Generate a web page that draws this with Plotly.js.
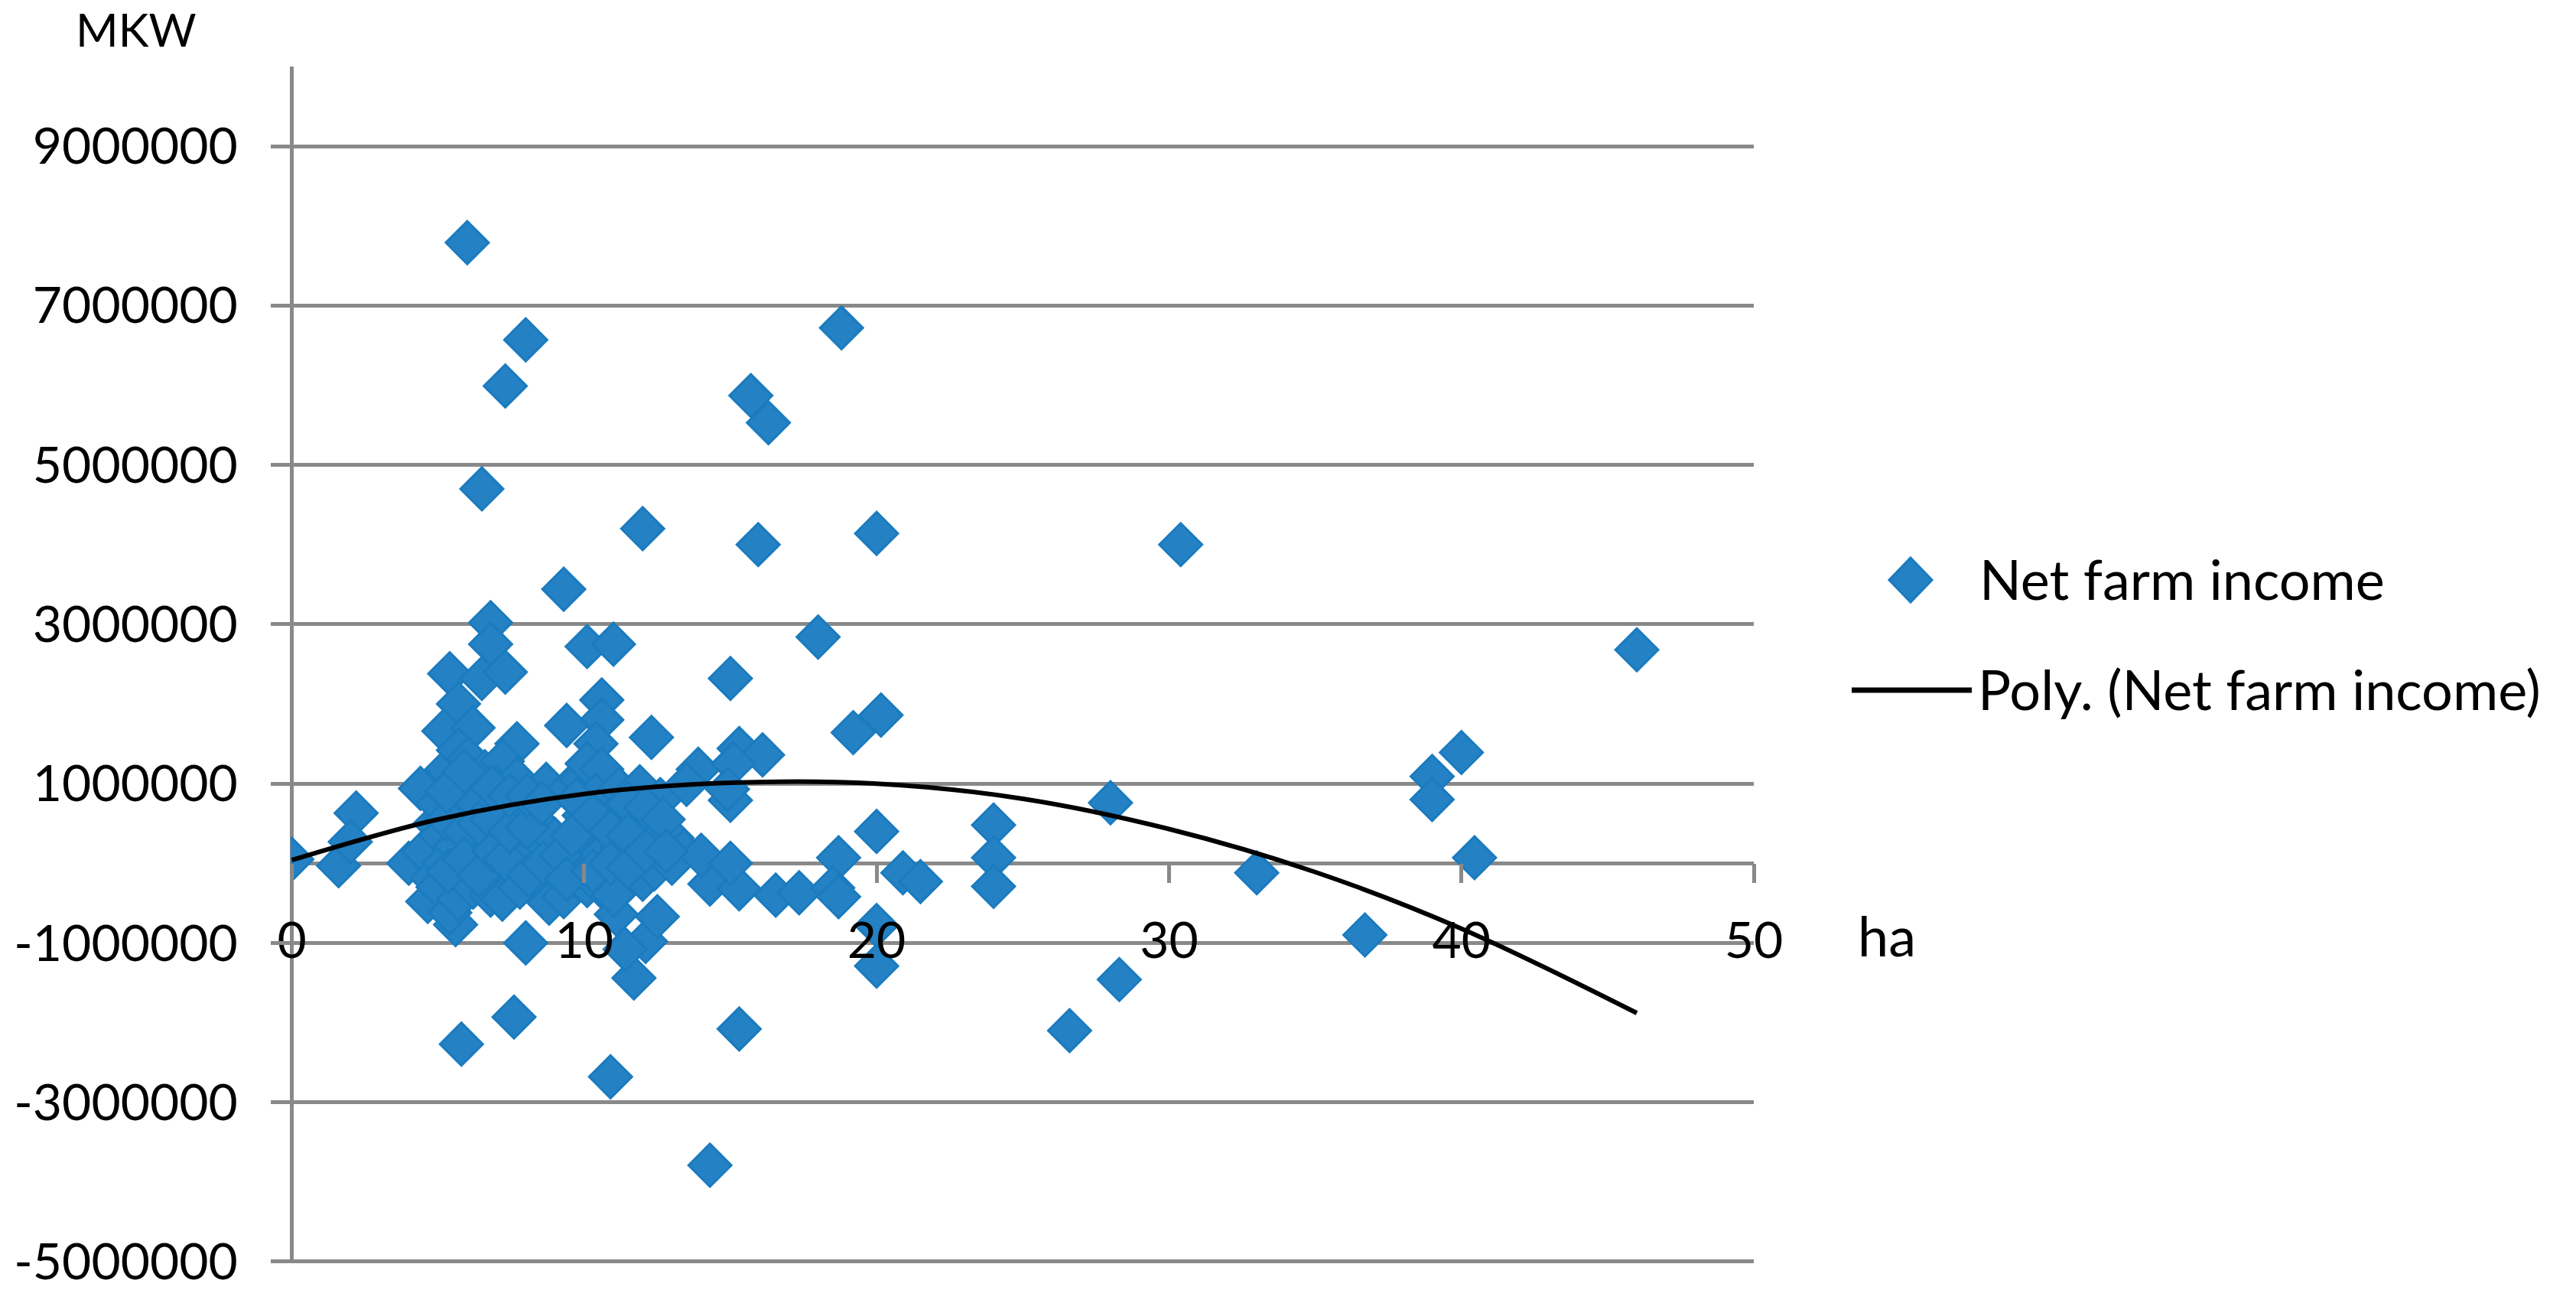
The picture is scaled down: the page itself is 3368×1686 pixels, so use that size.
<!DOCTYPE html>
<html>
<head>
<meta charset="utf-8">
<script src="https://cdn.plot.ly/plotly-3.0.1.min.js"></script>
<style>
  html, body { margin: 0; padding: 0; background: #ffffff; }
  #chart { width: 3368px; height: 1686px; }
</style>
</head>
<body>
<div id="chart"></div>
<script>
// farm size (ha) and net farm income (MKW)
const farmSizeHa = [
  0.0, 1.6, 2.2, 2.0, 6.0, 8.0, 7.3, 6.5, 18.8, 15.7,
  16.3, 12.0, 15.95, 20.0, 30.4, 46.0, 18.0, 9.3, 6.8, 6.8,
  10.1, 11.0, 5.4, 6.5, 7.3, 15.0, 5.7, 10.6, 10.6, 5.2,
  6.2, 9.4, 12.3, 19.2, 20.15, 15.3, 16.1, 7.7, 10.4, 13.9,
  15.1, 15.0, 20.0, 18.7, 20.9, 21.5, 16.55, 17.35, 18.5, 18.7,
  14.3, 15.3, 20.0, 20.0, 24.0, 24.0, 24.0, 28.0, 28.3, 26.6,
  33.0, 36.7, 39.0, 39.0, 40.0, 40.45, 8.0, 11.7, 12.1, 12.5,
  5.6, 15.3, 5.8, 7.6, 10.9, 14.3,
  4.0, 4.4, 4.9, 4.5, 4.8, 4.65, 5.3, 5.0, 5.1, 5.2,
  5.0, 5.4, 5.7, 5.6, 5.8, 5.6, 5.9, 5.7, 6.05, 6.2,
  6.1, 6.3, 6.2, 6.6, 6.5, 6.7, 6.5, 6.8, 7.2, 7.0,
  7.3, 7.1, 7.4, 7.2, 7.7, 7.9, 7.6, 8.0, 7.8, 8.7,
  8.3, 8.6, 8.4, 8.8, 9.0, 9.1, 9.3, 9.5, 9.9, 10.0,
  10.1, 9.8, 10.1, 10.1, 10.6, 10.4, 10.7, 10.4, 10.6, 11.2,
  11.0, 11.3, 11.0, 11.1, 11.4, 11.0, 11.9, 11.8, 11.6, 12.0,
  12.6, 12.3, 12.4, 13.5, 13.0, 13.4, 13.0, 14.0, 14.9, 15.0,
  5.3, 5.35, 5.3, 5.9, 5.9, 5.9, 6.35, 6.4, 6.4, 6.85,
  6.9, 6.85, 7.3, 7.45, 7.45, 8.05, 8.1, 8.05, 8.55, 8.6,
  9.2, 9.4, 9.6, 9.75, 10.3, 10.3, 10.9, 10.9, 11.5, 11.5,
  11.5, 12.1, 12.1, 12.7, 12.8,
];
const netFarmIncome = [
  50000, -30000, 630000, 270000, 7790000, 6570000, 5990000, 4700000, 6720000, 5870000,
  5530000, 4200000, 4000000, 4140000, 4000000, 2680000, 2840000, 3440000, 3020000, 2750000,
  2720000, 2750000, 2380000, 2320000, 2400000, 2320000, 2000000, 2050000, 1800000, 1660000,
  1700000, 1730000, 1580000, 1640000, 1860000, 1440000, 1360000, 1500000, 1500000, 1180000,
  1250000, 790000, 400000, 70000, -120000, -230000, -400000, -370000, -310000, -420000,
  -260000, -320000, -780000, -1290000, 480000, 70000, -290000, 760000, -1460000, -2100000,
  -120000, -900000, 1090000, 800000, 1390000, 70000, -1000000, -1440000, -980000, -670000,
  -770000, -2080000, -2270000, -1930000, -2680000, -3790000,
  0, 940000, 500000, 150000, -190000, -480000, 1180000, 750000, 350000, 0,
  -300000, -620000, 1420000, 950000, 600000, 220000, -150000, -450000, 1310000, 1000000,
  450000, 100000, -300000, 1150000, 750000, 350000, -50000, -400000, 1280000, 950000,
  600000, 250000, -100000, -450000, 1050000, 700000, 350000, 50000, -300000, 990000,
  550000, 250000, -100000, -500000, 300000, -50000, -420000, 950000, 1050000, 600000,
  250000, -190000, 1250000, -280000, 1180000, 850000, 450000, 50000, -300000, 930000,
  600000, 200000, -100000, -640000, -1080000, -400000, 960000, 550000, 150000, -200000,
  800000, 350000, -70000, 990000, 320000, 150000, 0, 100000, 930000, 0,
  550000, -100000, 900000, 400000, 50000, 1150000, 750000, -150000, 500000, 550000,
  150000, 950000, 50000, 400000, 850000, 450000, -150000, 850000, 750000, 0,
  100000, -200000, 350000, 800000, 600000, -100000, 400000, 0, 750000, 350000,
  -50000, 700000, 150000, 550000, 150000,
];

// polynomial trendline
const trendHa = [0, 5, 10, 15, 20, 25, 30, 35, 40, 46];
const trendIncome = [40000, 550000, 870000, 1010000, 1000000, 810000, 430000, -110000, -820000, -1880000];

const xTickVals = [0, 10, 20, 30, 40, 50];
const yTickVals = [-5000000, -3000000, -1000000, 1000000, 3000000, 5000000, 7000000, 9000000];
const xRange = [-0.04, 50];
const yRange = [-5020000, 10000000];

const colors = {
  marker: "#2481c3",
  markerEdge: "#1a7bbf",
  trend: "#000000",
  axis: "#898989",
  text: "#000000",
};
const fontFamily = "Lato, 'Open Sans', sans-serif";

const W = 3368, H = 1686;
const margin = { l: 380, r: 1075, t: 87, b: 35 };
const plotW = W - margin.l - margin.r;
const plotH = H - margin.t - margin.b;
const px = (x) => (x - margin.l) / plotW;
const py = (y) => (H - margin.b - y) / plotH;

const traces = [
  {
    x: farmSizeHa,
    y: netFarmIncome,
    type: "scatter",
    mode: "markers",
    name: "Net farm income",
    marker: { symbol: "diamond", size: 43, color: colors.marker, line: { color: colors.markerEdge, width: 3 } },
  },
  {
    x: trendHa,
    y: trendIncome,
    type: "scatter",
    mode: "lines",
    name: "Poly. (Net farm income)",
    line: { color: colors.trend, width: 6, shape: "spline" },
  },
];

const layout = {
  width: W,
  height: H,
  margin: margin,
  paper_bgcolor: "#ffffff",
  plot_bgcolor: "#ffffff",
  showlegend: false,
  font: { family: fontFamily, color: colors.text, size: 66 },
  xaxis: {
    range: xRange,
    anchor: "free",
    position: -yRange[0] / (yRange[1] - yRange[0]),
    tickvals: xTickVals,
    ticktext: xTickVals.map(String),
    ticks: "outside",
    ticklen: 25,
    tickwidth: 5,
    tickcolor: colors.axis,
    ticklabelstandoff: 19,
    ticklabeloverflow: "allow",
    showline: false,
    showgrid: false,
    zeroline: true,
    zerolinecolor: colors.axis,
    zerolinewidth: 5,
    tickfont: { family: fontFamily, size: 66, color: colors.text },
  },
  yaxis: {
    range: yRange,
    tickvals: yTickVals,
    ticktext: yTickVals.map(String),
    ticks: "outside",
    ticklen: 25,
    tickwidth: 5,
    tickcolor: colors.axis,
    ticklabelstandoff: 30,
    ticklabeloverflow: "allow",
    showline: false,
    showgrid: true,
    gridcolor: colors.axis,
    gridwidth: 5,
    zeroline: true,
    zerolinecolor: colors.axis,
    zerolinewidth: 5,
    tickfont: { family: fontFamily, size: 66, color: colors.text },
  },
  shapes: [
    {
      type: "path",
      xref: "paper",
      yref: "paper",
      xsizemode: "pixel",
      ysizemode: "pixel",
      xanchor: px(2498),
      yanchor: py(758),
      path: "M0,29 L28,0 L0,-29 L-28,0 Z",
      fillcolor: colors.marker,
      line: { color: colors.markerEdge, width: 3 },
    },
    {
      type: "line",
      xref: "paper",
      yref: "paper",
      x0: px(2421),
      x1: px(2578),
      y0: py(902),
      y1: py(902),
      line: { color: colors.trend, width: 7 },
    },
  ],
  annotations: [
    { text: "MKW", xref: "paper", yref: "paper", x: px(178), y: py(38), xanchor: "center", yanchor: "middle", showarrow: false, font: { size: 60 } },
    { text: "ha", xref: "paper", yref: "paper", x: px(2427), y: py(1222), xanchor: "left", yanchor: "middle", showarrow: false, font: { size: 72 } },
    { text: "Net farm income", xref: "paper", yref: "paper", x: px(2586), y: py(756), xanchor: "left", yanchor: "middle", showarrow: false, font: { size: 72 } },
    { text: "Poly. (Net farm income)", xref: "paper", yref: "paper", x: px(2584), y: py(900), xanchor: "left", yanchor: "middle", showarrow: false, font: { size: 72 } },
  ],
};

Plotly.newPlot("chart", traces, layout, { displayModeBar: false, staticPlot: true });
</script>
</body>
</html>
